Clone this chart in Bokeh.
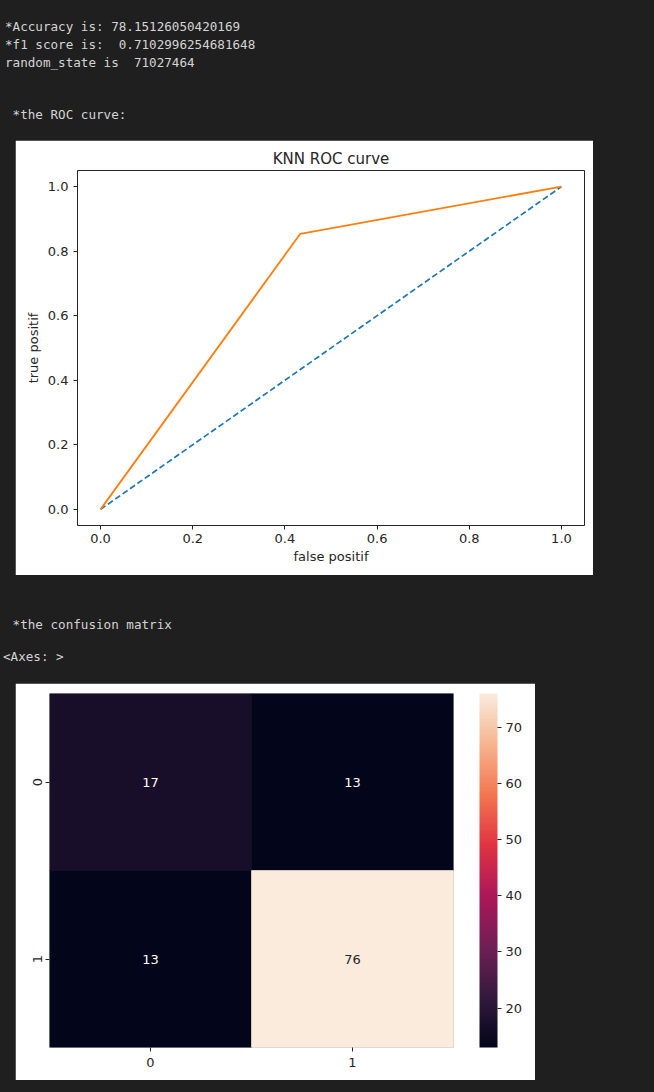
import numpy as np
from bokeh.plotting import figure
from bokeh.models import (Div, ColumnDataSource, LinearColorMapper, ColorBar,
                          FixedTicker, FactorRange, PrintfTickFormatter)
from bokeh.embed import file_html
from bokeh.resources import INLINE
from bokeh.core.properties import value

# ---------------- data ----------------
accuracy_text = "78.15126050420169"
f1_text = "0.7102996254681648"
random_state_text = "71027464"

fpr = [0.0, 0.4333, 1.0]
tpr = [0.0, 0.8539, 1.0]
chance_x = [0.0, 1.0]
chance_y = [0.0, 1.0]
roc_ticks = [0.0, 0.2, 0.4, 0.6, 0.8, 1.0]

cm_labels = ["0", "1"]
cm_true = ["0", "0", "1", "1"]
cm_pred = ["0", "1", "0", "1"]
cm_values = [17, 13, 13, 76]
cbar_ticks = [20, 30, 40, 50, 60, 70]

# ---------------- style ----------------
BG = "#1f1f1f"
TXT = "#d4d4d4"
INK = "#262626"
FONT = "DejaVu Sans"
ROCKET_ANCHORS = ["#03051a", "#35193e", "#701f57", "#ad1759",
                  "#e13342", "#f37651", "#f6b48f", "#faebdd"]


def hex2rgb(h):
    h = h.lstrip("#")
    return [int(h[i:i + 2], 16) for i in (0, 2, 4)]


anc = np.array([hex2rgb(c) for c in ROCKET_ANCHORS], dtype=float)
apos = np.linspace(0, 1, len(ROCKET_ANCHORS))
tt = np.linspace(0, 1, 256)
rocket = ["#%02x%02x%02x" % tuple(int(round(np.interp(t, apos, anc[:, k]))) for k in range(3))
          for t in tt]

lo, hi = min(cm_values), max(cm_values)


def text_color(v):
    idx = int(round((v - lo) / (hi - lo) * 255))
    r, g, b = [c / 255 for c in hex2rgb(rocket[idx])]
    lum = 0.2126 * r + 0.7152 * g + 0.0722 * b
    return "white" if lum < 0.408 else INK


# ---------------- text block 1 ----------------
mono = "font-family:'DejaVu Sans Mono',monospace;font-size:12.6px;line-height:18px;color:%s;white-space:pre;" % TXT
div1 = Div(
    text=('<div style="%s">' % mono
          + '<div style="padding:18px 0 0 5px;">*Accuracy is: %s\n*f1 score is:  %s\nrandom_state is  %s</div>'
          % (accuracy_text, f1_text, random_state_text)
          + '<div style="padding:34px 0 0 5px;"> *the ROC curve:</div></div>'),
    width=654, height=140, margin=0)

# ---------------- ROC figure ----------------
p1 = figure(width=578, height=435, x_range=(-0.05, 1.05), y_range=(-0.05, 1.05),
            output_backend="svg", toolbar_location=None, title="KNN ROC curve",
            min_border_left=62, min_border_right=9, min_border_top=30, min_border_bottom=50,
            margin=(0, 0, 0, 15))
p1.background_fill_color = "white"
p1.border_fill_color = "white"
p1.outline_line_color = INK
p1.outline_line_width = 1
p1.grid.visible = False
p1.title.align = "center"
p1.title.text_font = FONT
p1.title.text_font_size = "15px"
p1.title.text_font_style = "normal"
p1.title.text_color = INK
p1.title.standoff = 6

p1.line(chance_x, chance_y, line_color="#1f77b4", line_width=1.7, line_dash="6 3")
p1.line(fpr, tpr, line_color="#ff7f0e", line_width=1.8)

for ax in (p1.xaxis[0], p1.yaxis[0]):
    ax.ticker = FixedTicker(ticks=roc_ticks)
    ax.formatter = PrintfTickFormatter(format="%.1f")
    ax.axis_line_color = None
    ax.major_tick_out = 4
    ax.major_tick_in = 0
    ax.major_tick_line_color = INK
    ax.minor_tick_line_color = None
    ax.major_label_text_font = FONT
    ax.major_label_text_font_size = "13px"
    ax.major_label_text_color = INK
    ax.axis_label_text_font = FONT
    ax.axis_label_text_font_size = "13px"
    ax.axis_label_text_font_style = "normal"
    ax.axis_label_text_color = INK
p1.xaxis.axis_label = "false positif"
p1.yaxis.axis_label = "true positif"
p1.xaxis.major_label_standoff = 4
p1.yaxis.major_label_standoff = 5
p1.xaxis.axis_label_standoff = 3
p1.yaxis.axis_label_standoff = 4

# ---------------- text block 2 ----------------
div2 = Div(
    text=('<div style="%s">' % mono
          + '<div style="padding:41px 0 0 5px;"> *the confusion matrix</div>'
          + '<div style="padding:14px 0 0 3px;">&lt;Axes: &gt;</div></div>'),
    width=654, height=108, margin=0)

# ---------------- heatmap ----------------
mapper = LinearColorMapper(palette=rocket, low=lo, high=hi)
src = ColumnDataSource(dict(true=cm_true, pred=cm_pred, v=cm_values,
                            label=[str(v) for v in cm_values],
                            tc=[text_color(v) for v in cm_values]))

p2 = figure(width=520, height=397, x_range=FactorRange(*cm_labels),
            y_range=FactorRange(*reversed(cm_labels)),
            output_backend="svg", toolbar_location=None,
            min_border_left=34, min_border_right=82, min_border_top=10, min_border_bottom=33,
            margin=(0, 0, 0, 15))
p2.background_fill_color = "white"
p2.border_fill_color = "white"
p2.outline_line_color = None
p2.grid.visible = False
p2.rect(x="pred", y="true", width=1, height=1, source=src,
        fill_color={"field": "v", "transform": mapper},
        line_color={"field": "v", "transform": mapper}, line_width=0.6)
p2.text(x="pred", y="true", text="label", source=src, text_align="center",
        text_baseline="middle", text_font=value(FONT), text_font_size="13px",
        text_color="tc")

for ax in (p2.xaxis[0], p2.yaxis[0]):
    ax.axis_line_color = None
    ax.major_tick_out = 4
    ax.major_tick_in = 0
    ax.major_tick_line_color = INK
    ax.minor_tick_line_color = None
    ax.major_label_text_font = FONT
    ax.major_label_text_font_size = "13px"
    ax.major_label_text_color = INK
    ax.major_label_standoff = 4
p2.xaxis.major_label_standoff = 6
p2.yaxis.major_label_orientation = "vertical"

cb = ColorBar(color_mapper=mapper, ticker=FixedTicker(ticks=cbar_ticks), width=18, height=354,
              location=(430, 0), margin=0, padding=0, bar_line_color=None, border_line_color=None,
              major_tick_out=4, major_tick_in=0, major_tick_line_color=INK,
              minor_tick_line_color=None, label_standoff=4,
              major_label_text_font=FONT, major_label_text_font_size="13px",
              major_label_text_color=INK, background_fill_color=None)
p2.add_layout(cb)

TEMPLATE = ("{% block postamble %}<style>html, body { margin: 0 !important; padding: 0 !important; "
            "background: " + BG + " !important; }</style>{% endblock %}")

open("out.html", "w").write(file_html([div1, p1, div2, p2], INLINE, template=TEMPLATE))
